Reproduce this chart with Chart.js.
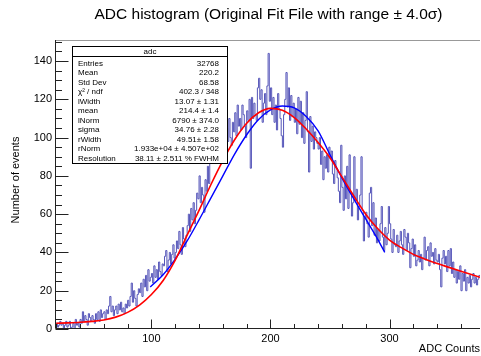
<!DOCTYPE html>
<html>
<head>
<meta charset="utf-8">
<script src="https://cdn.jsdelivr.net/npm/chart.js@4.4.0/dist/chart.umd.min.js"></script>
<style>
  body { margin: 0; background: #fff; }
</style>
</head>
<body>
<canvas id="adc_chart" width="481" height="356"></canvas>
<script>
// histogram: 1 ADC count per bin, first bin starts at 19
const bin_start = 19;
const bin_counts = [
    2,
    3, 1, 2, 4, 2, 3, 0, 2, 4, 1,
    2, 4, 0, 1, 3, 0, 5, 2, 3, 1,
    5, 3, 9, 4, 7, 5, 2, 8, 6, 4,
    7, 5, 3, 8, 5, 9, 4, 10, 6, 8,
    9, 5, 10, 8, 12, 17, 9, 12, 7, 10,
    12, 8, 13, 10, 14, 9, 11, 8, 13, 11,
    15, 12, 17, 24, 14, 20, 16, 12, 18, 21,
    19, 24, 17, 26, 22, 28, 20, 31, 25, 27,
    29, 24, 33, 27, 31, 26, 35, 30, 28, 34,
    33, 38, 41, 30, 36, 40, 34, 39, 44, 37,
    40, 46, 42, 51, 44, 39, 53, 47, 43, 49,
    54, 60, 51, 63, 57, 66, 55, 62, 71, 68,
    80, 66, 74, 70, 61, 78, 72, 85, 76, 95,
    88, 101, 92, 110, 96, 104, 93, 117, 99, 106,
    95, 102, 91, 105, 98, 110, 100, 96, 108, 103,
    113, 101, 117, 106, 110, 104, 117, 112, 106, 100,
    114, 109, 120, 84, 121, 110, 118, 112, 109, 126,
    131, 120, 125, 108, 118, 123, 112, 127, 144, 119,
    126, 112, 121, 108, 117, 104, 123, 115, 110, 101,
    95, 112, 120, 134, 116, 126, 109, 122, 111, 118,
    108, 115, 102, 121, 107, 119, 100, 113, 97, 109,
    124, 103, 82, 111, 98, 106, 94, 103, 100, 97,
    94, 100, 86, 93, 78, 90, 84, 91, 82, 95,
    89, 93, 81, 76, 88, 84, 79, 72, 66, 96,
    74, 62, 80, 68, 85, 63, 91, 71, 59, 66,
    90, 67, 73, 57, 64, 70, 90, 62, 46, 58,
    61, 55, 48, 71, 74, 54, 66, 49, 58, 45,
    52, 46, 55, 64, 48, 41, 53, 44, 50, 64,
    55, 47, 40, 52, 44, 43, 49, 40, 46, 51,
    44, 39, 52, 48, 41, 50, 45, 32, 42, 47,
    38, 44, 33, 36, 41, 35, 39, 31, 37, 48,
    36, 41, 43, 33, 45, 38, 40, 34, 42, 36,
    35, 39, 31, 22, 37, 41, 34, 38, 30, 41,
    33, 42, 29, 35, 27, 31, 24, 30, 26, 33,
    20, 29, 25, 31, 20, 27, 24, 28, 22, 26,
    29, 24, 27, 23, 26, 28
];

// red fit
const red_x = [20, 30, 40, 50, 60, 70, 80, 90, 100, 110, 120, 130, 140, 150, 160, 170, 180, 190, 200,
    210, 220, 230, 240, 250, 260, 270, 280, 290, 300, 310, 320, 330, 340, 350, 360, 370, 376];
const red_y = [3, 3.2, 3.5, 4, 4.7, 6.2, 8.7, 12.5, 18, 25.5, 36, 49, 62, 75.5, 88, 99, 107.5, 113, 115.3,
    114.3, 110.5, 104.5, 97.5, 89.5, 79.5, 69.5, 60, 52.5, 46.5, 42.5, 39, 36.5, 34.2, 32.2, 30.2, 28.2, 27];

// blue gaussian fit
const blue_x = [99, 110, 120, 130, 140, 150, 160, 170, 180, 190, 200, 210, 220, 230, 240, 250, 260, 270, 280, 290, 296];
const blue_y = [22, 28.5, 36.5, 46, 57, 68.5, 80, 91.5, 101.5, 109.5, 114.5, 116.5, 115.5, 111, 103.5, 91, 79, 68, 57.5, 47, 40];

const x_tick_labels = [100, 200, 300];
const y_tick_labels = [0, 20, 40, 60, 80, 100, 120, 140];

const stat_names = ['Entries', 'Mean', 'Std Dev', 'χ² / ndf', 'lWidth', 'mean', 'lNorm', 'sigma', 'rWidth', 'rNorm', 'Resolution'];
const stat_values = ['32768', '220.2', '68.58', '402.3 / 348', '13.07 ± 1.31', '214.4 ± 1.4', '6790 ± 374.0',
    '34.76 ± 2.28', '49.51± 1.58', '1.933e+04 ± 4.507e+02', '38.11 ± 2.511 % FWHM'];

const FONT = "'Liberation Sans', Arial, Helvetica, sans-serif";
Chart.defaults.font.family = FONT;

function toPoints(xs, ys){
    return xs.map((x, i) => ({x: x, y: ys[i]}));
}

const hist_points = bin_counts.map((c, i) => ({x: bin_start + i, y: c}));
hist_points.push({x: bin_start + bin_counts.length, y: bin_counts[bin_counts.length - 1]});

const rootDecor = {
    id: 'rootDecor',
    afterDatasetsDraw(chart){
        const ctx = chart.ctx;
        const a = chart.chartArea;
        const xs = chart.scales.x;
        const ys = chart.scales.y;
        ctx.save();

        // frame top line
        ctx.strokeStyle = '#999';
        ctx.lineWidth = 1;
        ctx.beginPath();
        ctx.moveTo(a.left, 40.5);
        ctx.lineTo(a.right, 40.5);
        ctx.stroke();

        // axes
        ctx.strokeStyle = '#222';
        ctx.beginPath();
        ctx.moveTo(55.5, a.top);
        ctx.lineTo(55.5, 328.5);
        ctx.lineTo(a.right, 328.5);
        // y ticks, inward
        for(let v = 0; v <= 150; v += 5){
            const py = Math.round(ys.getPixelForValue(v)) + 0.5;
            const len = (v % 20 === 0) ? 13 : 6.5;
            ctx.moveTo(55.5, py);
            ctx.lineTo(55.5 + len, py);
        }
        // x ticks, inward
        for(let v = 20; v <= 376; v += 20){
            const px = Math.round(xs.getPixelForValue(v)) + 0.5;
            const len = (v % 100 === 0) ? 9 : 4.5;
            ctx.moveTo(px, 328.5);
            ctx.lineTo(px, 328.5 - len);
        }
        ctx.stroke();

        // stats box
        const bx = 72.5, by = 46.5, bw = 155, bh = 117;
        ctx.fillStyle = '#fff';
        ctx.fillRect(bx, by, bw, bh);
        ctx.strokeStyle = '#000';
        ctx.strokeRect(bx, by, bw, bh);
        ctx.beginPath();
        ctx.moveTo(bx, 56.5);
        ctx.lineTo(bx + bw, 56.5);
        ctx.stroke();

        ctx.fillStyle = '#000';
        ctx.font = '8px ' + FONT;
        ctx.textBaseline = 'middle';
        ctx.textAlign = 'center';
        ctx.fillText('adc', bx + bw / 2, 52);
        stat_names.forEach((name, i) => {
            const ty = 63.5 + i * 9.5;
            ctx.textAlign = 'left';
            ctx.fillText(name, 78, ty);
            ctx.textAlign = 'right';
            ctx.fillText(stat_values[i], 219, ty);
        });

        ctx.restore();
    },
    afterDraw(chart){
        const ctx = chart.ctx;
        ctx.save();
        ctx.fillStyle = '#000';
        ctx.textBaseline = 'middle';

        ctx.font = '15.5px ' + FONT;
        ctx.textAlign = 'center';
        ctx.fillText('ADC histogram (Original Fit File with range ± 4.0σ)', 268.5, 15);

        ctx.font = '11px ' + FONT;
        ctx.textAlign = 'right';
        ctx.fillText('ADC Counts', 480, 349);

        ctx.translate(16, 180);
        ctx.rotate(-Math.PI / 2);
        ctx.textAlign = 'center';
        ctx.fillText('Number of events', 0, 0);
        ctx.restore();
    }
};

const ctx = document.getElementById('adc_chart').getContext('2d');
const adc_chart = new Chart(ctx, {
    type: 'line',
    data: {
        datasets: [{
            label: 'adc',
            data: hist_points,
            stepped: 'before',
            borderColor: 'rgb(85, 85, 185)',
            borderWidth: 1,
            pointRadius: 0,
            fill: false,
            order: 3
        }, {
            label: 'fit',
            data: toPoints(red_x, red_y),
            borderColor: '#ff0000',
            borderWidth: 1.6,
            pointRadius: 0,
            cubicInterpolationMode: 'monotone',
            fill: false,
            order: 1
        }, {
            label: 'gaus',
            data: toPoints(blue_x, blue_y),
            borderColor: '#0000ff',
            borderWidth: 1.4,
            pointRadius: 0,
            cubicInterpolationMode: 'monotone',
            fill: false,
            order: 2
        }]
    },
    options: {
        responsive: false,
        animation: false,
        layout: {
            padding: {top: 40, left: 0, right: 1, bottom: 0}
        },
        plugins: {
            legend: {display: false},
            title: {display: false},
            tooltip: {enabled: false}
        },
        scales: {
            x: {
                type: 'linear',
                min: 19,
                max: 376,
                grid: {display: false, drawTicks: false},
                border: {display: false},
                afterBuildTicks: (scale) => { scale.ticks = x_tick_labels.map(v => ({value: v})); },
                afterFit: (scale) => { scale.height = 27; },
                ticks: {
                    padding: 3,
                    color: '#000',
                    font: {size: 11},
                    maxRotation: 0
                }
            },
            y: {
                type: 'linear',
                min: 0,
                max: 151,
                grid: {display: false, drawTicks: false},
                border: {display: false},
                afterBuildTicks: (scale) => { scale.ticks = y_tick_labels.map(v => ({value: v})); },
                afterFit: (scale) => { scale.width = 55; },
                ticks: {
                    padding: 3,
                    color: '#000',
                    font: {size: 11}
                }
            }
        }
    },
    plugins: [rootDecor]
});
</script>
</body>
</html>
